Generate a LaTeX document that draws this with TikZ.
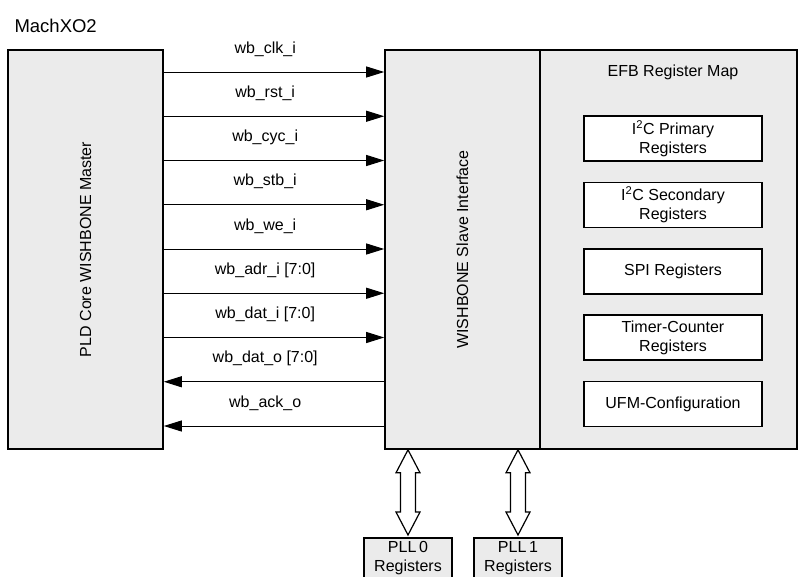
\documentclass[tikz,border=0pt]{standalone}
\usepackage{fontspec}
\setmainfont{Liberation Sans}
\usetikzlibrary{arrows.meta,calc}

\tikzset{
  blk/.style={draw, line width=1.6pt, fill=black!8, inner sep=0pt},
  regbox/.style={draw, line width=1.6pt, fill=white, minimum width=178pt, minimum height=45pt, align=center, inner sep=0pt},
  sig/.style={line width=1pt, -{Triangle[length=18pt,width=11pt]}},
  bus/.style={line width=1.2pt, fill=white, line join=miter},
}

\begin{document}
\begin{tikzpicture}[x=1pt, y=-1pt, font=\fontsize{16}{19}\selectfont]
   \useasboundingbox (0,0) rectangle (798,576);
   \clip (0,0) rectangle (798,576);

   \node[anchor=west, font=\fontsize{18.5}{20}\selectfont] (chip) at (11,26) {MachXO2};

   % master, slave interface and register map
   \node[blk, minimum width=155pt, minimum height=399pt] (master) at (85.5,249.5) {\rotatebox{90}{PLD Core WISHBONE Master}};
   \node[blk, minimum width=155pt, minimum height=399pt] (slave) at (462.5,249.5) {\rotatebox{90}{WISHBONE Slave Interface}};
   \node[blk, minimum width=257pt, minimum height=399pt] (efb) at (668.5,249.5) {};
   \node (efbtitle) at (673,72) {EFB Register Map};

   \foreach \txt [count=\i] in {I\textsuperscript{2}C Primary\\Registers, I\textsuperscript{2}C Secondary\\Registers, SPI Registers, Timer-Counter\\Registers, UFM-Configuration}
     \node[regbox] (reg\i) at (673,{138.5+66.4*(\i-1)}) {\txt};

   % wishbone signals
   \foreach \lbl [count=\i] in {wb\_clk\_i, wb\_rst\_i, wb\_cyc\_i, wb\_stb\_i, wb\_we\_i, wb\_adr\_i [7:0], wb\_dat\_i [7:0]}
     \draw[sig] (master.east |- 0,{72+44.25*(\i-1)}) -- node[pos=0.46, yshift=23pt] {\lbl} (slave.west |- 0,{72+44.25*(\i-1)});
   \foreach \lbl [count=\i from 8] in {wb\_dat\_o [7:0], wb\_ack\_o}
     \draw[sig] (slave.west |- 0,{72+44.25*(\i-1)}) -- node[pos=0.54, yshift=23pt] {\lbl} (master.east |- 0,{72+44.25*(\i-1)});

   % PLL registers
   \node[blk, anchor=north, minimum width=88pt, align=center, inner ysep=4pt, text depth=14pt] (pll0) at (408,537) {PLL\,0\\Registers};
   \node[blk, anchor=north, minimum width=88pt, align=center, inner ysep=4pt, text depth=14pt] (pll1) at (518,537) {PLL\,1\\Registers};

   \foreach \p in {pll0,pll1}
     \draw[bus] ($(\p.north)+(0,-2)$) -- ++(-12,-23) -- ++(4.5,0)
       -- ($(\p.north |- slave.south)+(-7.5,23)$) -- ++(-4.5,0) -- (\p.north |- slave.south)
       -- ++(12,23) -- ++(-4.5,0) -- ($(\p.north)+(7.5,-25)$) -- ++(4.5,0) -- cycle;
\end{tikzpicture}
\end{document}
